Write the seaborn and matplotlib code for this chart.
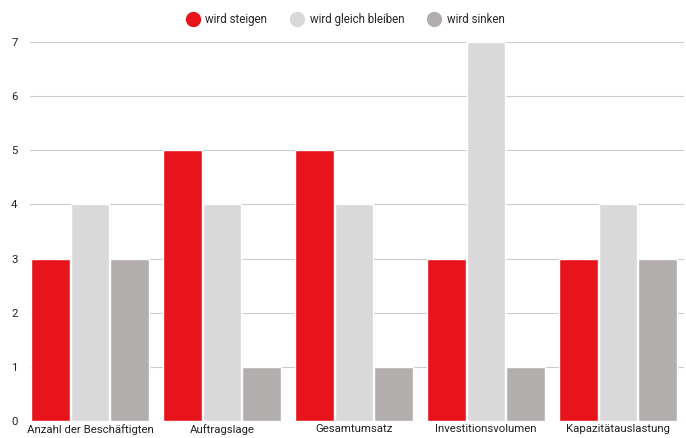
import seaborn as sns
import matplotlib.pyplot as plt
import pandas as pd
from matplotlib.lines import Line2D

# Daten
kategorien = ['Anzahl der Beschäftigten', 'Auftragslage', 'Gesamtumsatz',
              'Investitionsvolumen', 'Kapazitätauslastung']
serien = ['wird steigen', 'wird gleich bleiben', 'wird sinken']
steigen = [3, 5, 5, 3, 3]
gleich = [4, 4, 4, 7, 4]
sinken = [3, 1, 1, 1, 3]

farben = ['#E8141B', '#D9D9D9', '#B3AEAE']

df = pd.DataFrame({
    'kategorie': kategorien * 3,
    'serie': [serien[0]] * 5 + [serien[1]] * 5 + [serien[2]] * 5,
    'wert': steigen + gleich + sinken,
})

sns.set_style('white')
plt.rcParams['font.family'] = ['Roboto', 'DejaVu Sans']

fig = plt.figure(figsize=(6.86, 4.38), dpi=100)
ax = fig.add_axes([30 / 686, 1 - 421 / 438, 654 / 686, (421 - 42) / 438])

sns.barplot(data=df, x='kategorie', y='wert', hue='serie', palette=farben,
            width=0.9, gap=0.03, ax=ax, legend=False, saturation=1)

ax.set_ylim(0, 7)
ax.set_xlim(-0.455, 4.5)
ax.set_yticks(range(8))
ax.yaxis.grid(True, color='#CCCCCC', linewidth=0.8)
ax.set_axisbelow(True)
for s in ax.spines.values():
    s.set_visible(False)
ax.set_xlabel('')
ax.set_ylabel('')
ax.tick_params(axis='both', length=0, labelsize=8.2, colors='#222222')
ax.tick_params(axis='y', pad=9)
ax.tick_params(axis='x', pad=2)

handles = [Line2D([], [], marker='o', linestyle='', markersize=10,
                  markerfacecolor=c, markeredgecolor=c) for c in farben]
fig.legend(handles, serien, loc='upper center', bbox_to_anchor=(0.5, 0.995),
           ncol=3, frameon=False, fontsize=8.3, handletextpad=0.1,
           columnspacing=1.6)

plt.savefig('out.png', dpi=100)
